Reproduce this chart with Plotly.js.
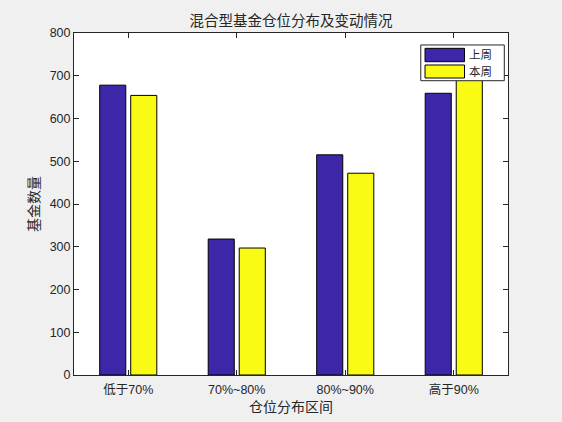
<!DOCTYPE html>
<html>
<head>
<meta charset="utf-8">
<script src="https://cdn.plot.ly/plotly-3.0.1.min.js"></script>
<style>
  html, body { margin: 0; padding: 0; background: #F0F0F0; }
  #chart { width: 562px; height: 422px; }
</style>
</head>
<body>
<div id="chart"></div>
<script>
// ── Data ──
const CATEGORIES = ["低于70%", "70%~80%", "80%~90%", "高于90%"];
const LAST_WEEK = [678, 318, 515, 659];
const THIS_WEEK = [654, 297, 472, 700];
const SERIES_NAMES = ["上周", "本周"];
const SERIES_COLORS = ["rgb(62,38,168)", "rgb(249,251,21)"];

const FONT = '"Liberation Sans", "Noto Sans CJK SC", sans-serif';
const INK = "#262626";
const TICK_FONT = { family: FONT, size: 12.5, color: INK };

const traces = [LAST_WEEK, THIS_WEEK].map((vals, i) => ({
  type: "bar",
  name: SERIES_NAMES[i],
  x: CATEGORIES,
  y: vals,
  marker: { color: SERIES_COLORS[i], line: { color: "#000", width: 1 } },
}));

// ── MATLAB-style legend box (wide swatches) ──
const legendShapes = [
  {
    type: "rect", xref: "paper", yref: "paper",
    x0: 0.799, x1: 0.9915, y0: 0.8605, y1: 0.965,
    fillcolor: "#FFFFFF", line: { color: INK, width: 1 }, layer: "above",
  },
];
const legendAnnotations = [];
const rowY = [[0.9161, 0.9552], [0.8684, 0.9064]];
SERIES_NAMES.forEach((name, i) => {
  legendShapes.push({
    type: "rect", xref: "paper", yref: "paper",
    x0: 0.8088, x1: 0.8998, y0: rowY[i][0], y1: rowY[i][1],
    fillcolor: SERIES_COLORS[i], line: { color: "#000", width: 1 }, layer: "above",
  });
  legendAnnotations.push({
    xref: "paper", yref: "paper",
    x: 0.9056, y: (rowY[i][0] + rowY[i][1]) / 2,
    xanchor: "left", yanchor: "middle",
    text: name, showarrow: false,
    font: { family: FONT, size: 11.5, color: INK },
  });
});

const axisBase = {
  showline: true,
  linecolor: INK,
  linewidth: 1,
  mirror: "allticks",
  ticks: "inside",
  ticklen: 5,
  tickcolor: INK,
  showgrid: false,
  zeroline: false,
  tickfont: TICK_FONT,
  fixedrange: true,
};

const layout = {
  width: 562,
  height: 422,
  paper_bgcolor: "#F0F0F0",
  plot_bgcolor: "#FFFFFF",
  margin: { l: 74, r: 54, t: 33, b: 47 },
  barmode: "group",
  bargap: 0.428,
  bargroupgap: 0.16,
  showlegend: false,
  title: {
    text: "混合型基金仓位分布及变动情况",
    font: { family: FONT, size: 14.5, color: INK },
    x: 0.518,
    xanchor: "center",
    y: 0.95,
    yanchor: "middle",
  },
  xaxis: {
    ...axisBase,
    type: "category",
    range: [-0.5, 3.5],
    ticklabelstandoff: 3,
    title: { text: "仓位分布区间", font: { family: FONT, size: 14, color: INK }, standoff: 6 },
  },
  yaxis: {
    ...axisBase,
    range: [0, 800],
    dtick: 100,
    title: { text: "基金数量", font: { family: FONT, size: 14, color: INK }, standoff: 6 },
  },
  shapes: legendShapes,
  annotations: legendAnnotations,
};

Plotly.newPlot("chart", traces, layout, { displayModeBar: false, staticPlot: true });
</script>
</body>
</html>
